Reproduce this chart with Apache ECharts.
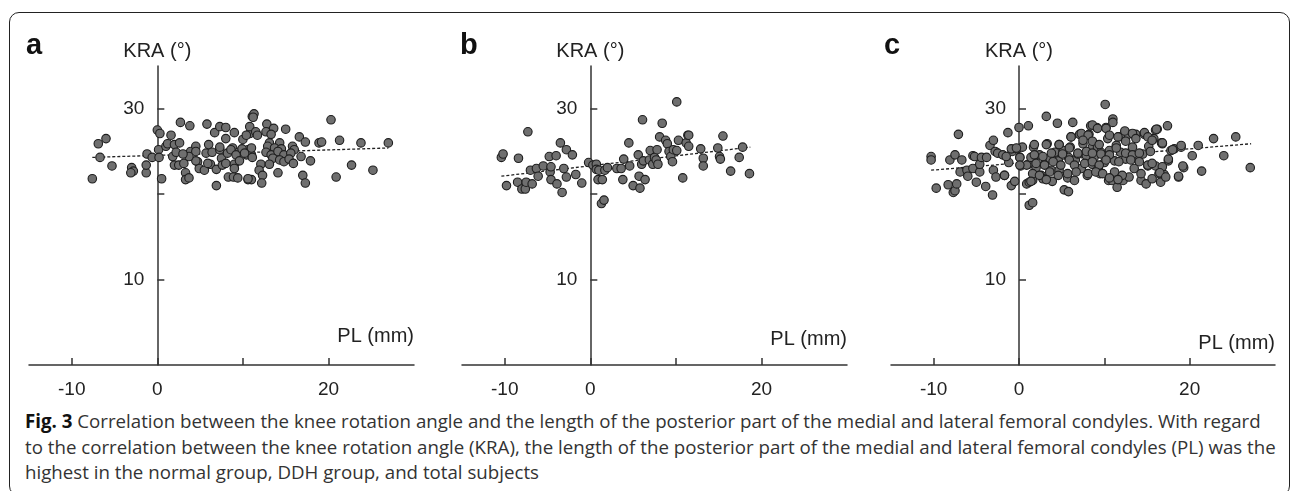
<!DOCTYPE html>
<html>
<head>
<meta charset="utf-8">
<script src="https://cdn.jsdelivr.net/npm/echarts@6/dist/echarts.min.js"></script>
<style>
  html, body { margin:0; padding:0; background:#fff; }
  #wrap { position:relative; width:1292px; height:491px; overflow:hidden; background:#fff; }
  #frame { position:absolute; left:9px; top:12px; width:1279px; height:482px; border:1.5px solid #222; border-radius:10px; }
  #chart { position:absolute; left:0; top:0; width:1292px; height:400px; }
  #cap { position:absolute; left:25px; top:408px; font-family:"Open Sans", sans-serif; font-size:18.7px; line-height:25.5px; color:#333; white-space:nowrap; }
  #cap b { color:#111; font-weight:700; }
</style>
</head>
<body>
<div id="wrap">
  <div id="frame"></div>
  <div id="chart"></div>
  <div id="cap"><b>Fig. 3</b> Correlation between the knee rotation angle and the length of the posterior part of the medial and lateral femoral condyles. With regard<br>to the correlation between the knee rotation angle (KRA), the length of the posterior part of the medial and lateral femoral condyles (PL) was the<br>highest in the normal group, DDH group, and total subjects</div>
</div>
<script>
// ---- tick values ----
const xTickValues = [-10, 0, 10, 20];
const xLabelValues = [-10, 0, 20];
const yTickValues = [10, 20, 30];
const yLabelValues = [10, 30];
const panelLetters = ['a', 'b', 'c'];

// ---- panel a: normal group [PL (mm), KRA (deg)] ----
const normalPts = [
  [-7.6,21.8],[-6.9,25.9],[-6.0,26.5],[-6.7,24.3],[-5.3,23.3],[-3.0,23.1],[-2.8,22.7],[-3.1,22.5],
  [-1.3,22.5],[-1.3,23.4],[-1.2,24.7],[-0.6,24.3],[0.0,27.5],[0.3,27.1],[0.15,25.2],[0.2,24.3],
  [0.5,21.8],[1.0,25.6],[1.2,25.9],[1.6,26.9],[2.0,25.8],[2.6,26.0],[2.7,28.4],[1.8,24.4],
  [2.0,23.4],[2.5,23.4],[2.2,24.9],[3.1,23.6],[3.3,22.5],[3.3,21.7],[3.7,21.9],[3.8,28.0],
  [3.9,25.0],[4.5,25.6],[4.5,25.0],[4.7,23.8],[4.9,23.0],[5.5,22.8],[5.7,24.8],[5.8,28.2],
  [6.0,25.8],[6.2,23.5],[6.4,24.9],[6.7,27.2],[6.9,22.9],[6.9,21.0],[7.3,27.9],[7.3,25.2],
  [7.5,24.2],[7.6,23.4],[8.0,26.5],[8.0,27.8],[8.2,24.8],[8.3,22.0],[8.8,25.4],[9.0,27.2],
  [9.0,23.5],[8.9,22.0],[9.4,21.9],[9.5,24.9],[10.0,26.4],[10.6,21.7],[10.6,25.2],[10.8,27.1],
  [11.0,21.7],[11.1,29.1],[7.3,25.5],[8.6,25.2],[9.2,24.6],[9.9,25.3],[10.4,24.6],[11.0,24.6],
  [9.6,23.9],[9.0,23.0],[8.0,23.6],[5.9,23.6],[4.5,23.9],[3.7,24.4],[3.0,24.7],
  [11.3,29.4],[11.2,29.0],[10.8,27.9],[11.5,27.3],[10.4,26.9],[11.7,26.9],[12.8,28.2],[12.7,27.3],
  [13.6,27.7],[13.3,27.0],[15.0,27.6],[13.1,26.0],[14.3,26.0],[12.9,25.6],[13.7,25.4],[14.5,25.3],
  [15.8,25.6],[16.0,25.2],[16.6,26.7],[17.3,26.1],[18.9,26.0],[19.2,26.1],[20.3,28.7],[21.3,26.3],
  [23.8,26.0],[27.0,26.0],[11.0,25.4],[10.2,24.8],[11.1,24.3],[12.7,24.9],[13.3,24.6],[14.1,25.0],
  [14.8,24.6],[15.6,24.8],[13.5,24.2],[14.3,24.0],[14.8,23.8],[15.4,24.1],[15.9,23.6],[16.8,24.4],
  [17.9,23.9],[12.1,23.5],[13.1,23.5],[11.9,22.8],[12.3,22.2],[14.1,22.5],[10.6,21.8],[12.2,21.3],
  [17.0,22.2],[17.3,21.3],[20.9,22.0],[22.7,23.4],[25.2,22.8]
];
// ---- panel b: DDH group ----
const ddhPts = [
  [-10.4,24.3],[-10.2,24.7],[-9.8,21.0],[-8.4,24.2],[-8.5,21.4],[-8.0,20.6],[-7.6,20.6],[-7.5,21.4],
  [-6.8,21.2],[-7.3,27.3],[-7.0,22.8],[-6.3,23.0],[-6.1,22.1],[-5.5,23.3],[-4.8,24.4],[-4.0,24.5],
  [-4.7,22.6],[-4.6,23.2],[-4.6,21.7],[-3.9,21.2],[-3.5,26.0],[-3.3,20.2],[-3.1,23.0],[-2.8,25.2],
  [-2.8,22.0],[-2.1,24.6],[-1.7,22.3],[-1.0,21.3],[-0.2,23.7],[0.3,23.4],[0.7,23.5],[0.7,22.9],
  [1.0,22.8],[0.9,21.7],[1.4,21.7],[1.3,18.9],[1.6,19.3],[1.7,22.8],[2.0,23.1],[3.1,23.0],
  [3.6,23.0],[3.9,24.1],[3.8,21.7],[4.5,26.0],[4.6,23.3],[5.0,21.0],[5.6,24.6],[5.7,22.1],
  [5.8,20.7],[6.1,28.7],[6.0,23.5],[6.2,23.9],[6.4,21.7],[7.0,25.1],[6.9,24.0],[7.3,23.5],
  [7.5,24.3],[7.8,25.2],[7.7,24.0],[7.9,23.5],[8.1,26.7],[8.4,28.3],[8.8,26.3],[9.0,25.9],
  [9.2,25.0],[9.4,24.4],[9.6,23.8],[9.7,25.2],[10.1,30.8],[10.1,25.1],[10.3,26.3],[10.8,21.9],
  [11.2,26.0],[11.4,26.9],[11.5,26.9],[11.5,25.6],[12.9,25.3],[13.2,24.2],[13.2,23.3],[14.9,25.4],
  [15.1,24.4],[15.2,24.1],[15.5,26.8],[16.4,22.7],[17.4,24.3],[17.8,25.5],[18.6,22.4]
];
// ---- panel c: total subjects ----
const totalPts = [
  [-10.3,24.4],[-10.3,24.0],[-9.7,20.7],[-8.3,21.1],[-8.1,24.0],[-7.7,20.2],[-7.5,20.4],[-7.5,24.6],
  [-7.3,21.2],[-6.7,24.0],[-7.1,27.0],[-6.9,22.6],[-6.1,22.8],[-6.0,22.1],[-5.4,24.5],[-5.2,24.4],
  [-5.4,23.0],[-5.0,21.4],[-4.6,22.6],[-4.6,23.5],[-4.4,24.3],[-3.8,24.3],[-3.9,20.9],[-3.4,25.7],
  [-3.0,26.3],[-3.0,22.8],[-3.1,19.9],[-2.8,25.0],[-2.7,22.0],[-2.5,24.8],[-1.7,22.2],[-1.9,24.6],
  [-1.3,27.2],[-1.2,23.7],[-0.9,21.0],[-0.8,25.0],[-0.5,21.5],[-0.2,25.3],[0.0,27.8],[0.1,24.3],
  [0.2,23.3],[0.4,25.5],[0.9,21.2],[1.1,28.0],[1.1,23.5],[1.2,18.7],[1.6,19.0],[1.2,21.4],
  [1.4,24.3],[1.6,21.6],[1.7,25.5],[2.0,23.1],[2.4,24.6],[2.6,22.2],[2.8,21.8],[3.0,23.5],
  [3.2,29.1],[3.3,25.9],[3.6,24.2],[3.8,22.8],[3.9,21.5],[4.2,24.9],[4.5,28.3],[4.6,23.9],
  [4.7,25.8],[4.7,22.8],[5.2,25.1],[5.3,20.5],[5.8,20.3],[5.7,21.9],[5.8,24.3],[6.0,25.5],
  [6.1,26.7],[6.3,28.4],[6.5,21.6],[6.6,24.0],[6.9,24.7],[7.1,27.0],[7.3,23.0],[7.5,25.9],
  [7.9,24.5],[8.0,22.2],[8.2,27.0],[8.4,28.0],[8.6,25.5],[8.6,23.5],[8.8,24.3],[9.1,27.8],
  [9.2,25.5],[9.3,23.1],[9.5,22.4],[9.6,24.9],[10.0,23.7],[10.1,30.5],[10.2,27.8],[10.4,26.5],
  [10.5,21.6],[10.6,25.1],[10.9,21.6],[11.0,28.8],[11.0,28.4],[11.2,23.9],[11.4,25.7],[11.5,20.8],
  [11.7,26.7],[11.9,24.9],[12.2,21.6],[12.3,27.0],[12.5,24.1],[12.8,27.0],[12.9,22.0],[13.1,24.9],
  [13.3,25.5],[13.5,23.0],[13.7,27.0],[13.9,24.1],[14.3,21.6],[14.5,24.7],[14.7,27.0],[14.9,21.2],
  [15.1,23.3],[15.2,25.6],[15.6,21.8],[15.8,26.5],[16.0,23.3],[16.2,27.6],[16.6,21.4],[16.8,25.9],
  [17.0,22.3],[17.4,28.0],[17.5,23.9],[17.8,25.1],[18.2,25.3],[18.7,22.0],[19.0,25.5],[19.3,23.1],
  [20.3,24.5],[21.0,25.7],[21.4,22.7],[22.8,26.5],[24.0,24.5],[25.4,26.7],[27.1,23.1],
  [8.6,28.1],[9.2,27.7],[10.2,27.7],[7.3,27.1],[8.1,26.9],[6.1,26.7],[7.5,26.3],[8.6,26.2],
  [10.6,26.9],[11.6,26.7],[12.4,27.4],[13.3,27.1],[13.7,26.5],[14.7,27.2],[15.1,26.7],[16.0,27.5],
  [16.7,26.0],[15.6,26.3],[12.5,26.2],[9.4,25.8],[11.4,25.4],[1.8,25.8],[3.2,25.8],[4.7,25.8],
  [5.9,25.4],[-0.9,25.3],[-0.3,25.4],[0.1,24.3],[-1.5,24.4],[1.8,24.6],[2.8,24.4],[3.8,24.8],
  [5.1,24.7],[6.9,24.8],[7.9,25.0],[8.6,24.8],[9.6,24.7],[10.6,24.6],[12.5,24.8],[13.3,24.6],
  [14.1,24.8],[15.4,25.0],[0.9,23.4],[2.0,23.6],[3.0,23.4],[4.0,23.8],[4.9,23.4],[5.9,24.0],
  [6.5,23.4],[7.7,23.6],[8.6,23.8],[9.4,23.4],[10.2,24.0],[11.7,23.8],[13.1,24.0],[14.1,23.8],
  [15.1,23.4],[15.6,23.6],[16.8,23.2],[-1.7,22.2],[0.1,23.4],[1.6,22.4],[2.4,22.2],[3.6,22.6],
  [4.6,22.2],[5.7,22.4],[6.7,22.6],[8.1,22.4],[9.0,22.6],[9.8,22.4],[11.2,22.6],[12.1,22.2],
  [14.3,22.4],[16.4,22.4],[1.4,21.5],[3.2,21.7],[10.6,21.9],[11.6,21.7],
  [16.1,27.6],[19.0,25.7],[18.0,25.2],[17.5,24.1],[19.2,23.3],[18.7,22.1],[16.8,26.0],[16.5,22.5],[17.2,22.0]
];
// ---- regression lines (end points) ----
const normalTrend = [[-7.6,24.3],[27.0,25.4]];
const ddhTrend = [[-10.4,22.1],[18.7,25.5]];
const totalTrend = [[-10.3,22.8],[27.2,25.9]];

const ptsList = [normalPts, ddhPts, totalPts];
const trendList = [normalTrend, ddhTrend, totalTrend];

const FONT = '"Liberation Sans", Arial, sans-serif';
const gridBoxes = [
  {left:29, top:66, width:385, height:299},
  {left:462, top:66, width:385, height:299},
  {left:891, top:66, width:384, height:299}
];
const letterPos = [26, 460, 884];
const xNameLift = [19, 16, 12];

const option = {
  backgroundColor: 'transparent',
  animation: false,
  grid: gridBoxes.map(g => Object.assign({outerBoundsMode:'none', containLabel:false}, g)),
  title: panelLetters.map((t, i) => ({
    text: t, left: letterPos[i], top: 31, padding: 0,
    textStyle: {fontFamily: FONT, fontWeight: 'bold', fontSize: 29, color: '#111'}
  })),
  xAxis: [0,1,2].map(i => ({
    gridIndex: i, type: 'value', min: -15, max: 30,
    splitLine: {show: false},
    axisLine: {onZero: false, lineStyle: {color: '#333', width: 1.5}},
    axisTick: {inside: true, length: 7, customValues: xTickValues, lineStyle: {color: '#333', width: 1.5}},
    axisLabel: {customValues: xLabelValues, margin: 15, fontSize: 19, color: '#222', fontFamily: FONT},
    name: 'PL (mm)', nameLocation: 'end', nameGap: 0, nameMoveOverlap: false,
    nameTextStyle: {align: 'right', verticalAlign: 'bottom', padding: [0, 0, xNameLift[i], 0], fontSize: 20, color: '#222', fontFamily: FONT}
  })),
  yAxis: [0,1,2].map(i => ({
    gridIndex: i, type: 'value', min: 0, max: 35, position: 'left',
    splitLine: {show: false},
    axisLine: {onZero: false, lineStyle: {color: '#333', width: 1.5}},
    axisTick: {inside: true, length: 7, customValues: yTickValues, lineStyle: {color: '#333', width: 1.5}},
    axisLabel: {customValues: yLabelValues, margin: 13, fontSize: 19, color: '#222', fontFamily: FONT},
    name: 'KRA (°)', nameLocation: 'end', nameGap: 5, nameMoveOverlap: false,
    nameTextStyle: {align: 'center', fontSize: 20, color: '#222', fontFamily: FONT}
  })),
  series: [
    ...trendList.map((d, i) => ({
      type: 'line', xAxisIndex: i, yAxisIndex: i, data: d, symbol: 'none', z: 2,
      lineStyle: {color: '#222', width: 1.3, type: [3, 2]}, silent: true
    })),
    ...ptsList.map((d, i) => ({
      type: 'scatter', xAxisIndex: i, yAxisIndex: i, data: d, symbolSize: 8.5, z: 3,
      itemStyle: {color: '#6f6f6f', borderColor: '#1e1e1e', borderWidth: 1.1, opacity: 1}
    }))
  ]
};
const chart = echarts.init(document.getElementById('chart'), null, {renderer: 'canvas'});
chart.setOption(option);
// move each vertical axis (line, ticks, labels, name) onto PL = 0 using the x scale
const yOffsets = [0,1,2].map(i => {
  const zeroPx = chart.convertToPixel({xAxisIndex: i}, 0);
  return {offset: gridBoxes[i].left - zeroPx};
});
chart.setOption({yAxis: yOffsets});
</script>
</body>
</html>
